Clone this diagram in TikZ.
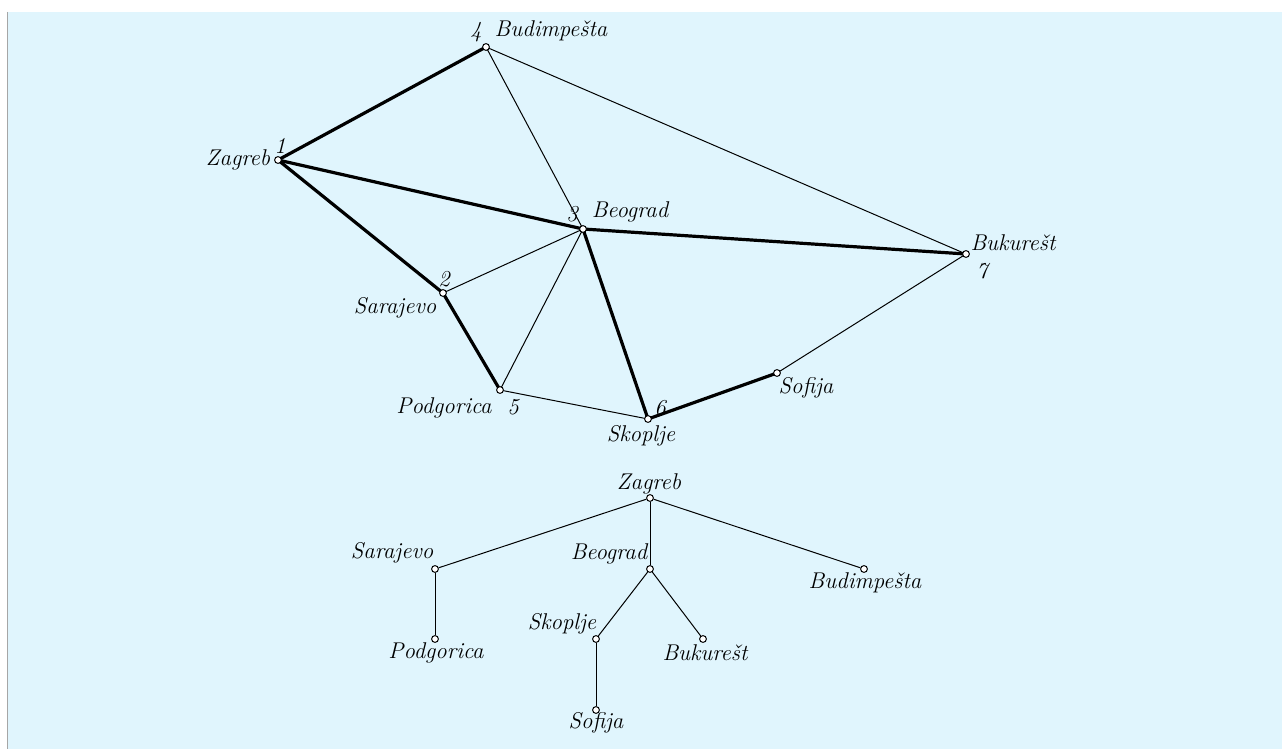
\documentclass[tikz,border=0pt]{standalone}
\usepackage{fontspec}
\begin{document}
\begin{tikzpicture}[x=0.5pt,y=-0.5pt,
  vtx/.style={circle,draw,fill=white,inner sep=0pt,minimum size=3.4pt,line width=0.5pt},
  lbl/.style={font=\fontsize{11.4}{13}\selectfont\itshape,inner sep=0pt},
  thin/.style={line width=0.5pt},
  thick/.style={line width=1.6pt}]
\useasboundingbox (0,0) rectangle (1282,749);
\fill[white] (0,0) rectangle (1282,749);
\fill[cyan!12] (8,12) rectangle (1282,749);
\draw[gray!70,line width=0.6pt] (7.5,12) -- (7.5,749);
% city graph
\coordinate (z) at (278,160);
\coordinate (bu) at (486,47);
\coordinate (be) at (583,229);
\coordinate (bk) at (966,254);
\coordinate (sa) at (443,293);
\coordinate (po) at (500,390);
\coordinate (sk) at (648,419);
\coordinate (so) at (777,373);
\draw[thin] (bu) -- (be);
\draw[thin] (bu) -- (bk);
\draw[thin] (sa) -- (be);
\draw[thin] (po) -- (be);
\draw[thin] (po) -- (sk);
\draw[thin] (so) -- (bk);
\draw[thick] (z) -- (bu);
\draw[thick] (z) -- (be);
\draw[thick] (z) -- (sa);
\draw[thick] (sa) -- (po);
\draw[thick] (be) -- (bk);
\draw[thick] (be) -- (sk);
\draw[thick] (sk) -- (so);
\foreach \v in {z,bu,be,bk,sa,po,sk,so} \node[vtx] (n\v) at (\v) {};
\node[lbl] (lz1) at (280,146) {1};
\node[lbl] (lz) at (238,160) {Zagreb};
\node[lbl] (lbu4) at (476,32) {4};
\node[lbl] (lbu) at (551,31) {Budimpešta};
\node[lbl] (lbe3) at (572,214) {3};
\node[lbl] (lbe) at (630,212) {Beograd};
\node[lbl] (lbk) at (1013,243) {Bukurešt};
\node[lbl] (lbk7) at (982,271) {7};
\node[lbl] (lsa2) at (444,279) {2};
\node[lbl] (lsa) at (395,308) {Sarajevo};
\node[lbl] (lpo) at (444,408) {Podgorica};
\node[lbl] (lpo5) at (513,407) {5};
\node[lbl] (lsk6) at (660,408) {6};
\node[lbl] (lsk) at (641,436) {Skoplje};
\node[lbl] (lso) at (806,388) {Sofija};
% spanning tree
\node[vtx] (tz) at (650,498) {};
\node[vtx] (tsa) at (435,569) {};
\node[vtx] (tbe) at (650,569) {};
\node[vtx] (tbu) at (864,569) {};
\node[vtx] (tpo) at (435,639) {};
\node[vtx] (tsk) at (596,639) {};
\node[vtx] (tbk) at (703,639) {};
\node[vtx] (tso) at (596,710) {};
\draw[thin] (tz) -- (tsa);
\draw[thin] (tz) -- (tbe);
\draw[thin] (tz) -- (tbu);
\draw[thin] (tsa) -- (tpo);
\draw[thin] (tbe) -- (tsk);
\draw[thin] (tbe) -- (tbk);
\draw[thin] (tsk) -- (tso);
\node[lbl] (ltz) at (649,484) {Zagreb};
\node[lbl] (ltsa) at (392,553) {Sarajevo};
\node[lbl] (ltbe) at (609,554) {Beograd};
\node[lbl] (ltbu) at (865,583) {Budimpešta};
\node[lbl] (ltpo) at (436,653) {Podgorica};
\node[lbl] (ltsk) at (562,624) {Skoplje};
\node[lbl] (ltbk) at (705,653) {Bukurešt};
\node[lbl] (ltso) at (596,723) {Sofija};
\end{tikzpicture}
\end{document}
